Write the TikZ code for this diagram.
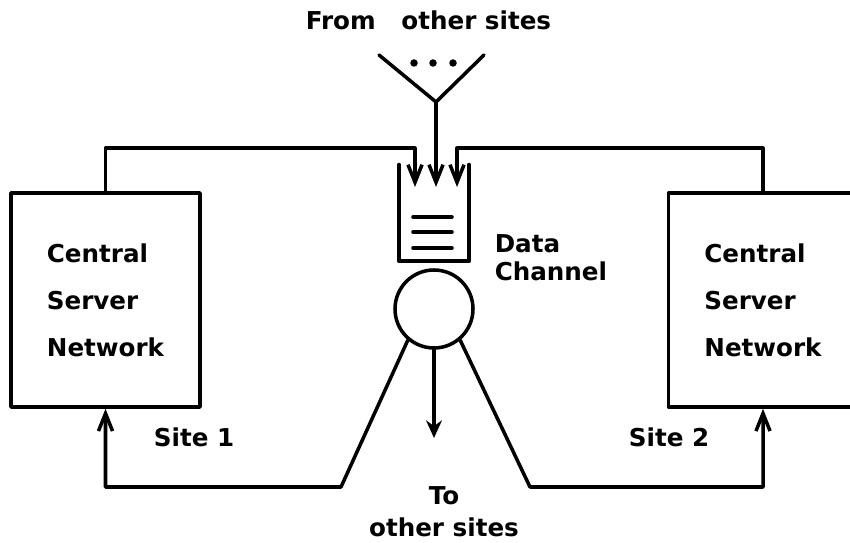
\documentclass[tikz,border=0pt]{standalone}
\usepackage{fontspec}
\setmainfont{DejaVu Sans}
\usetikzlibrary{arrows.meta}

\begin{document}
\begin{tikzpicture}[line cap=round,line join=round,x=1cm,y=1cm,line width=2pt,
    openhead/.style={-{Straight Barb[length=10pt,width=8pt]}},
    lbl/.style={font=\bfseries\fontsize{14}{16}\selectfont, inner sep=0pt},
    sitebox/.style={draw, minimum width=3.78cm, minimum height=4.28cm, align=left,
        font=\bfseries\fontsize{14}{26.7}\selectfont}]

    \clip (0,0) rectangle (17,10.86);

    % Site boxes
    \draw (2.11,4.86) node[sitebox] (S1) {Central\\Server\\Network};
    \draw (15.26,4.86) node[sitebox] (S2) {Central\\Server\\Network};

    % Queue of the data channel
    \draw[line width=2.6pt] (7.98,7.56) -- (7.98,5.64) -- (9.38,5.64) -- (9.38,7.56);
    \foreach \y in {6.52,6.22,5.9}
        \draw (8.26,\y) -- (9.04,\y);
    \coordinate (qL) at (8.3,7.12);
    \coordinate (qM) at (8.72,7.12);
    \coordinate (qR) at (9.14,7.12);

    % Server of the data channel
    \draw (8.68,4.68) node[circle, draw, minimum size=1.56cm] (srv) {};

    % Input from other sites
    \coordinate (apex) at (8.72,8.82);
    \draw (7.58,9.76) -- (apex) -- (9.68,9.76);
    \foreach \x in {8.28,8.66,9.06}
        \fill (\x,9.6) circle (0.075);
    \draw[openhead] (apex) -- (qM);

    % Sites to channel
    \draw[openhead] (S1.north) -- ++(0,0.86) -| (qL);
    \draw[openhead] (S2.north) -- ++(0,0.86) -| (qR);
    % Channel to sites
    \draw[openhead] (srv.230) -- (6.82,1.12) -| (S1.south);
    \draw[openhead] (srv.310) -- (10.6,1.12) -| (S2.south);
    \draw[-{Stealth[length=10pt,width=9pt]}] (srv.south) -- (8.68,2.1);

    % Labels
    \node[lbl] (from) at (8.57,10.45) {From\ \ \ other\ sites};
    \node[lbl, anchor=west, align=left] (chan) at (9.86,5.7) {Data\\Channel};
    \node[lbl] (site1) at (3.88,2.12) {Site 1};
    \node[lbl] (site2) at (13.38,2.12) {Site 2};
    \node[lbl, align=center, font=\bfseries\fontsize{14}{18}\selectfont] (to) at (8.88,0.62) {To\\other sites};
\end{tikzpicture}
\end{document}
